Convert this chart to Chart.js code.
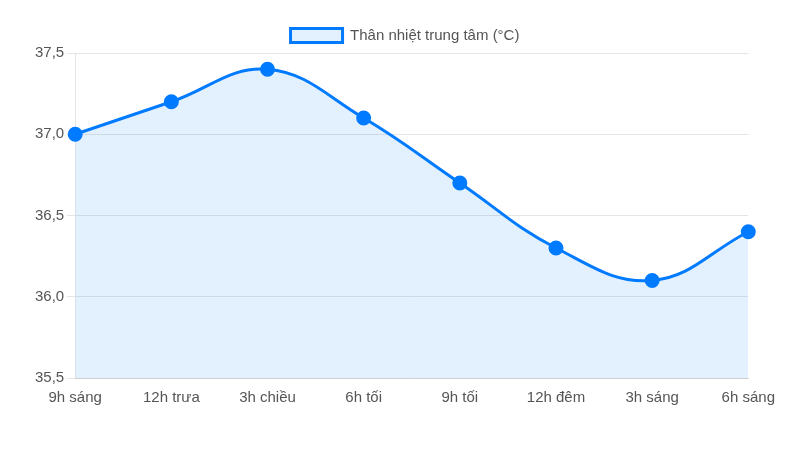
<!DOCTYPE html>
<html>
<head>
<meta charset="utf-8">
<script src="https://cdn.jsdelivr.net/npm/chart.js@4"></script>
<style>
  body { margin: 0; background: #fff; }
  #wrap { margin-left: 30px; width: 748px; height: 452px; }
</style>
</head>
<body>
<div id="wrap"><canvas id="myChart"></canvas></div>
<script>
// Time points along the x-axis
var times = ["9h sáng", "12h trưa", "3h chiều", "6h tối", "9h tối", "12h đêm", "3h sáng", "6h sáng"];
// Core body temperature readings
var temps = [37.0, 37.2, 37.4, 37.1, 36.7, 36.3, 36.1, 36.4];

Chart.defaults.font.family = "'Liberation Sans', Arial, sans-serif";
Chart.defaults.font.size = 15;
Chart.defaults.color = "#555";

var ctx = document.getElementById("myChart");
var myChart = new Chart(ctx, {
  type: 'line',
  data: {
    labels: times,
    datasets: [
      {
        data: temps,
        label: "Thân nhiệt trung tâm (°C)",
        borderColor: "#007bff",
        backgroundColor: "rgba(0,123,255,0.11)",
        borderWidth: 3,
        pointRadius: 6,
        pointHoverRadius: 7,
        pointBackgroundColor: "#007bff",
        pointBorderColor: "#007bff",
        tension: 0.4,
        fill: true
      }
    ]
  },
  options: {
    responsive: true,
    maintainAspectRatio: false,
    animation: false,
    layout: { padding: { left: 2, right: 0, top: 18, bottom: 42 } },
    plugins: {
      legend: {
        labels: { boxWidth: 52, boxHeight: 14 }
      }
    },
    scales: {
      x: {
        grid: { display: false }
      },
      y: {
        min: 35.5,
        max: 37.5,
        ticks: {
          stepSize: 0.5,
          callback: function (v) { return v.toFixed(1).replace('.', ','); }
        }
      }
    }
  }
});
</script>
</body>
</html>
